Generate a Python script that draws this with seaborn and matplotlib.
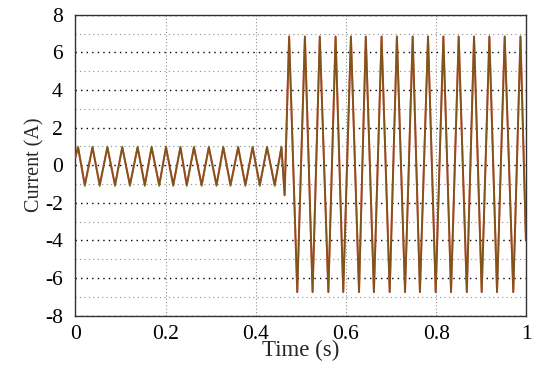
import pandas as pd
import seaborn as sns
import matplotlib.pyplot as plt
from matplotlib.ticker import MultipleLocator

# turning points of the two current traces
time = [0.000, 0.006, 0.021, 0.038, 0.054, 0.071, 0.088, 0.104, 0.121, 0.138,
        0.154, 0.169, 0.186, 0.201, 0.217, 0.233, 0.247, 0.263, 0.280, 0.296,
        0.313, 0.328, 0.344, 0.361, 0.377, 0.393, 0.409, 0.425, 0.442, 0.457,
        0.464, 0.474, 0.492, 0.509, 0.526, 0.542, 0.561, 0.577, 0.594, 0.611,
        0.629, 0.644, 0.662, 0.679, 0.697, 0.713, 0.731, 0.748, 0.764, 0.782,
        0.799, 0.816, 0.833, 0.850, 0.868, 0.884, 0.901, 0.918, 0.935, 0.952,
        0.971, 0.987, 0.999]

current_red = [0.40, 0.95, -1.05, 0.95, -1.05, 0.95, -1.05, 0.95, -1.05, 0.95,
               -1.05, 0.95, -1.05, 0.95, -1.05, 0.95, -1.05, 0.95, -1.05, 0.95,
               -1.05, 0.95, -1.05, 0.95, -1.05, 0.95, -1.05, 0.95, -1.05, 0.95,
               -1.60, 6.85, -6.75, 6.85, -6.75, 6.85, -6.75, 6.85, -6.75, 6.85,
               -6.75, 6.85, -6.75, 6.85, -6.75, 6.85, -6.75, 6.85, -6.75, 6.85,
               -6.75, 6.85, -6.75, 6.85, -6.75, 6.85, -6.75, 6.85, -6.75, 6.85,
               -6.75, 6.85, -4.00]

current_green = [0.50, 1.00, -1.12, 1.00, -1.12, 1.00, -1.12, 1.00, -1.12, 1.00,
                 -1.12, 1.00, -1.12, 1.00, -1.12, 1.00, -1.12, 1.00, -1.12, 1.00,
                 -1.12, 1.00, -1.12, 1.00, -1.12, 1.00, -1.12, 1.00, -1.12, 1.00,
                 -1.60, 6.85, -6.75, 6.85, -6.75, 6.85, -6.75, 6.85, -6.75, 6.85,
                 -6.75, 6.85, -6.75, 6.85, -6.75, 6.85, -6.75, 6.85, -6.75, 6.85,
                 -6.75, 6.85, -6.75, 6.85, -6.75, 6.85, -6.75, 6.85, -6.75, 6.85,
                 -6.75, 6.85, -4.00]

df = pd.DataFrame({'t': time, 'red': current_red, 'green': current_green})

sns.set_theme(style='white')
plt.rcParams['font.family'] = ['Liberation Serif', 'DejaVu Serif']
plt.rcParams['axes.unicode_minus'] = False

fig = plt.figure(figsize=(5.5, 3.73), dpi=100)
ax = fig.add_axes([0.137, 0.154, 0.820, 0.806])

sns.lineplot(data=df, x='t', y='red', ax=ax, color='#e0201a', lw=1.4, zorder=3)
sns.lineplot(data=df, x='t', y='green', ax=ax, color='#3f7a1c', lw=1.3,
             alpha=0.6, zorder=4)

ax.set_xlim(0, 1)
ax.set_ylim(-8, 8)
ax.xaxis.set_major_locator(MultipleLocator(0.2))
ax.yaxis.set_major_locator(MultipleLocator(2))
ax.yaxis.set_minor_locator(MultipleLocator(1))
ax.xaxis.set_major_formatter(plt.FuncFormatter(lambda v, p: f'{v:g}'))

ax.grid(True, axis='y', which='major', color='black', linestyle=(0, (1, 3)), lw=1.0)
ax.grid(True, axis='y', which='minor', color='#8c8c8c', linestyle=(0, (1, 3)), lw=0.8)
ax.grid(True, axis='x', which='major', color='#8c8c8c', linestyle=(0, (1, 2)), lw=0.8)

for s in ax.spines.values():
    s.set_color('#333333')
    s.set_linewidth(1.0)

ax.tick_params(axis='both', which='both', length=0, labelsize=15.5, colors='black')
ax.tick_params(axis='x', pad=7)
ax.tick_params(axis='y', pad=9)

ax.set_xlabel('Time (s)', fontsize=16.5, labelpad=-3)
ax.set_ylabel('Current (A)', fontsize=14.5, labelpad=0)

fig.savefig('out.png', dpi=100)
